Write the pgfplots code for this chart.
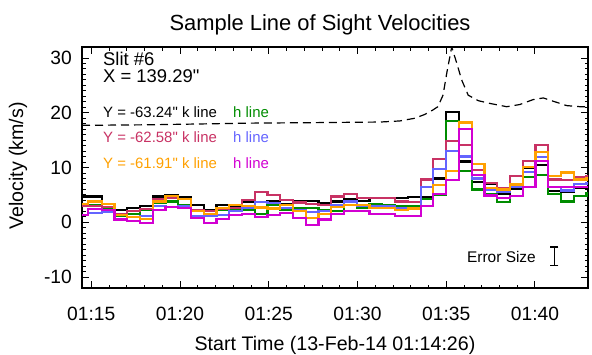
\documentclass[border=0pt]{standalone}
\usepackage{fontspec}
\setmainfont{Liberation Sans}[Ligatures=TeXOff]
\usepackage{pgfplots}
\usepackage{pgfplotstable}
\pgfplotsset{compat=1.18}
\definecolor{cgreen}{RGB}{0,140,0}
\definecolor{cpink}{RGB}{200,50,100}
\definecolor{cblue}{RGB}{100,100,255}
\definecolor{corange}{RGB}{255,160,0}
\definecolor{cmag}{RGB}{210,0,210}

% t = minutes after 01:00 ; velocities in km/s
\pgfplotstableread{
t      bk   gr   pk   bl   or   mg
14.450 4.7  3.2  3.0  1.3  3.4  1.3
15.228 4.7  3.2  3.0  1.7  3.8  2.4
15.947 2.8  2.6  2.8  1.9  3.4  2.2
16.666 2.3  1.2  1.5  0.6  1.3  0.5
17.385 2.6  1.5  2.0  0.2  0.9  0.2
18.104 3.0  2.3  2.4  1.1  0.6 -0.1
18.823 4.7  3.6  4.2  2.9  3.8  2.2
19.541 5.0  3.8  4.5  2.8  4.8  2.8
20.260 4.6  3.2  4.2  2.9  4.2  2.6
20.979 3.1  2.2  2.3  1.1  2.1  0.8
21.698 2.3  1.2  2.1  1.2  1.5 -0.1
22.417 3.2  2.2  2.5  1.3  2.6  0.6
23.136 2.8  2.3  2.6  2.0  3.2  1.3
23.854 3.7  2.3  4.0  2.6  3.0  1.5
24.573 2.6  1.5  5.6  3.7  2.7  0.9
25.292 3.8  3.2  5.0  3.5  2.5  1.3
26.011 3.4  2.2  4.0  2.6  3.1  1.7
26.730 3.8  2.6  3.6  2.3  2.0  0.8
27.449 3.9  2.6  3.4  1.9  0.8 -0.5
28.168 3.5  2.3  3.2  2.0  1.5  0.5
28.887 3.8  2.0  4.7  3.2  2.8  1.5
29.605 4.3  3.2  5.2  3.8  3.1  2.0
30.324 3.9  2.6  4.4  2.9  3.2  2.0
31.043 4.5  3.3  4.5  3.0  2.6  1.5
31.762 4.5  3.1  4.5  3.0  2.6  1.5
32.481 4.5  2.9  3.8  2.6  2.3  1.2
33.200 4.6  2.9  3.7  2.6  2.5  1.2
33.919 4.6  4.3  7.8  6.4  2.9  2.9
34.637 8.0  5.0  11.6 9.7  6.8  5.2
35.356 20.2 18.5 14.8 13.0 9.4  7.7
36.075 11.1 9.3  14.1 12.0 18.2 17.0
36.794 7.3  6.0  9.6  8.0  10.6 8.6
37.513 7.0  5.1  7.2  6.0  6.3  4.9
38.232 5.1  3.7  6.3  5.5  6.0  4.4
38.951 6.1  4.8  8.4  6.5  6.9  4.8
39.669 10.0 8.3  11.2 9.2  10.1 6.4
40.388 10.4 8.6  14.1 11.9 12.8 11.2
41.107 5.7  5.1  7.8  6.4  8.4  6.4
41.826 5.6  3.8  7.7  5.8  9.1  6.4
42.545 6.2  4.8  8.3  7.0  7.8  6.4
43.264 6.2  5.4  8.5  7.2  8.0  6.5
}\vel

\pgfplotstableread{
t      v
14.479 17.7
18.31  17.8
23.94  18.1
27.89  18.2
31.27  18.3
32.39  18.5
33.24  19.0
33.80  19.7
34.25  20.5
34.53  21.1
34.82  23.2
35.04  27.4
35.31  32.0
35.59  29.1
35.87  26.0
36.24  23.2
36.81  22.2
37.46  21.7
38.41  21.1
39.15  21.5
39.90  22.4
40.47  22.7
41.03  22.1
41.79  21.3
42.54  21.1
42.99  21.1
}\dashcurve

% error-size indicator: ends of the bar
\pgfplotstableread{
t     v
41.10 -4.51
41.10 -7.97
}\errbar

\begin{document}
\begin{tikzpicture}[x=1bp,y=1bp]
\path[use as bounding box] (-82,-66) rectangle (510,288);
\begin{axis}[
  at={(0,0)}, anchor=south west,
  scale only axis, width=506bp, height=241bp,
  xmin=14.479, xmax=42.99, ymin=-12, ymax=32,
  xtick={15,20,25,30,35,40},
  xticklabels={01:15,01:20,01:25,01:30,01:35,01:40},
  minor x tick num=4,
  ytick={-10,0,10,20,30}, minor y tick num=9,
  tick align=inside,
  major tick length=7bp, minor tick length=3.5bp,
  axis line style={line width=1.1bp},
  every tick/.style={black, line width=0.9bp},
  ticklabel style={font=\fontsize{19.3}{22}\selectfont},
  xticklabel style={anchor=base, yshift=-32bp},
  yticklabel style={anchor=east, inner sep=0pt, xshift=-10bp},
  /pgf/number format/assume math mode=true,
]
\addplot[black, line width=1.2bp, dash pattern=on 8bp off 5bp] table[x=t,y=v]{\dashcurve};
\addplot[const plot mark mid, no marks, black,   line width=2.2bp] table[x=t,y=bk]{\vel};
\addplot[const plot mark mid, no marks, cgreen,  line width=2.2bp] table[x=t,y=gr]{\vel};
\addplot[const plot mark mid, no marks, cpink,   line width=2.2bp] table[x=t,y=pk]{\vel};
\addplot[const plot mark mid, no marks, cblue,   line width=2.2bp] table[x=t,y=bl]{\vel};
\addplot[const plot mark mid, no marks, corange, line width=2.2bp] table[x=t,y=or]{\vel};
\addplot[const plot mark mid, no marks, cmag,    line width=2.2bp] table[x=t,y=mg]{\vel};
\addplot[black, line width=1.1bp, mark=-, mark size=4bp,
  mark options={solid, line width=1.1bp}] table[x=t,y=v]{\errbar};
\end{axis}
\node[anchor=base, font=\fontsize{22}{26}\selectfont] at (238,257.5) {Sample Line of Sight Velocities};
\node[anchor=base west, inner sep=0pt, font=\fontsize{18.5}{22}\selectfont] at (21,222.4) {Slit \#6};
\node[anchor=base west, inner sep=0pt, font=\fontsize{18.5}{22}\selectfont] at (21,205.4) {X = 139.29"};
\node[anchor=base west, inner sep=0pt, font=\fontsize{15}{18}\selectfont] at (21,170.9) {Y = -63.24" k line};
\node[anchor=base west, inner sep=0pt, font=\fontsize{15}{18}\selectfont, text=cgreen] at (151,170.9) {h line};
\node[anchor=base west, inner sep=0pt, font=\fontsize{15}{18}\selectfont, text=cpink] at (21,145.9) {Y = -62.58" k line};
\node[anchor=base west, inner sep=0pt, font=\fontsize{15}{18}\selectfont, text=cblue] at (151,145.9) {h line};
\node[anchor=base west, inner sep=0pt, font=\fontsize{15}{18}\selectfont, text=corange] at (21,119.3) {Y = -61.91" k line};
\node[anchor=base west, inner sep=0pt, font=\fontsize{15}{18}\selectfont, text=cmag] at (151,119.3) {h line};
\node[anchor=base east, inner sep=0pt, font=\fontsize{15.5}{18}\selectfont] at (454,25.6) {Error Size};
\node[anchor=base, font=\fontsize{19.7}{23}\selectfont] at (253,-62) {Start Time (13-Feb-14 01:14:26)};
\node[rotate=90, font=\fontsize{19.7}{23}\selectfont] at (-64,122) {Velocity (km/s)};
\end{tikzpicture}
\end{document}
